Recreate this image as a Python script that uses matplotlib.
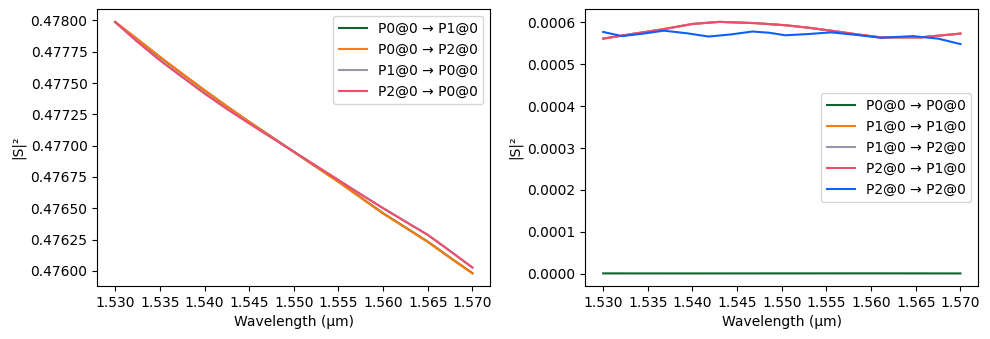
import numpy as np
import matplotlib
matplotlib.use("Agg")
import matplotlib.pyplot as plt

# values
wl_left = [1.530, 1.5325, 1.535, 1.5375, 1.540, 1.5425, 1.545, 1.5475, 1.550,
           1.5525, 1.555, 1.5575, 1.560, 1.5625, 1.565, 1.5675, 1.570]

# P0@0 -> P1@0 and P0@0 -> P2@0 (almost on top of each other)
s_p0_p1 = [0.477986, 0.477848, 0.477708, 0.477574, 0.477442, 0.477314, 0.477190,
           0.477071, 0.476951, 0.476831, 0.476712, 0.476586, 0.476460, 0.476347,
           0.476233, 0.476106, 0.475982]
s_p0_p2 = [0.477988, 0.477850, 0.477710, 0.477575, 0.477443, 0.477315, 0.477191,
           0.477071, 0.476950, 0.476830, 0.476710, 0.476584, 0.476458, 0.476345,
           0.476231, 0.476104, 0.475980]
# P1@0 -> P0@0 and P2@0 -> P0@0
s_p1_p0 = [0.477987, 0.477830, 0.477684, 0.477550, 0.477419, 0.477296, 0.477180,
           0.477066, 0.476952, 0.476838, 0.476726, 0.476612, 0.476502, 0.476395,
           0.476289, 0.476160, 0.476028]
s_p2_p0 = [0.477986, 0.477828, 0.477681, 0.477548, 0.477416, 0.477293, 0.477177,
           0.477064, 0.476951, 0.476838, 0.476725, 0.476611, 0.476500, 0.476393,
           0.476287, 0.476158, 0.476026]

# right panel: reflections / crosstalk
wl_p00 = [1.530, 1.540, 1.550, 1.560, 1.570]
s_p00 = [1.0e-6, 0.9e-6, 1.0e-6, 1.1e-6, 0.9e-6]

wl_p11 = [1.530, 1.5335, 1.5366, 1.540, 1.5430, 1.547, 1.5504, 1.553, 1.5555,
          1.5585, 1.5611, 1.5655, 1.570]
s_p11 = [0.000561, 0.000573, 0.000583, 0.000596, 0.000601, 0.000598, 0.000593,
         0.000587, 0.000580, 0.000571, 0.000564, 0.000564, 0.000573]
s_p12 = s_p11
s_p21 = s_p11

wl_p22 = [1.530, 1.5321, 1.5345, 1.5368, 1.5393, 1.5418, 1.5443, 1.5467, 1.5486,
          1.5504, 1.553, 1.5555, 1.5583, 1.5611, 1.5629, 1.5647, 1.5675, 1.570]
s_p22 = [0.000577, 0.000567, 0.000573, 0.000580, 0.000574, 0.000566, 0.000571,
         0.000578, 0.000575, 0.000569, 0.000572, 0.000576, 0.000570, 0.000563,
         0.000565, 0.000567, 0.000561, 0.000548]

c_green = "#13602f"
c_orange = "#ff7b0f"
c_gray = "#9696aa"
c_pink = "#ef4d6d"
c_blue = "#0f5fff"

fig, (ax1, ax2) = plt.subplots(1, 2, figsize=(9.9, 3.39), dpi=100)
fig.subplots_adjust(left=0.0983, right=0.9882, bottom=0.1563, top=0.9726, wspace=0.2417)

ax1.plot(wl_left, s_p0_p1, color=c_green, label="P0@0 → P1@0")
ax1.plot(wl_left, s_p0_p2, color=c_orange, label="P0@0 → P2@0")
ax1.plot(wl_left, s_p1_p0, color=c_gray, label="P1@0 → P0@0")
ax1.plot(wl_left, s_p2_p0, color=c_pink, label="P2@0 → P0@0")
ax1.set_xlabel("Wavelength (µm)")
ax1.set_ylabel("|S|²")
ax1.legend(loc="upper right")

ax2.plot(wl_p00, s_p00, color=c_green, label="P0@0 → P0@0")
ax2.plot(wl_p11, s_p11, color=c_orange, label="P1@0 → P1@0")
ax2.plot(wl_p11, s_p12, color=c_gray, label="P1@0 → P2@0")
ax2.plot(wl_p11, s_p21, color=c_pink, label="P2@0 → P1@0")
ax2.plot(wl_p22, s_p22, color=c_blue, label="P2@0 → P2@0")
ax2.set_xlabel("Wavelength (µm)")
ax2.set_ylabel("|S|²")
ax2.legend(loc="center right")

for ax in (ax1, ax2):
    ax.set_xticks(np.arange(1.530, 1.5701, 0.005))
    ax.xaxis.set_major_formatter(matplotlib.ticker.FormatStrFormatter("%.3f"))

fig.savefig("out.png", dpi=100)
